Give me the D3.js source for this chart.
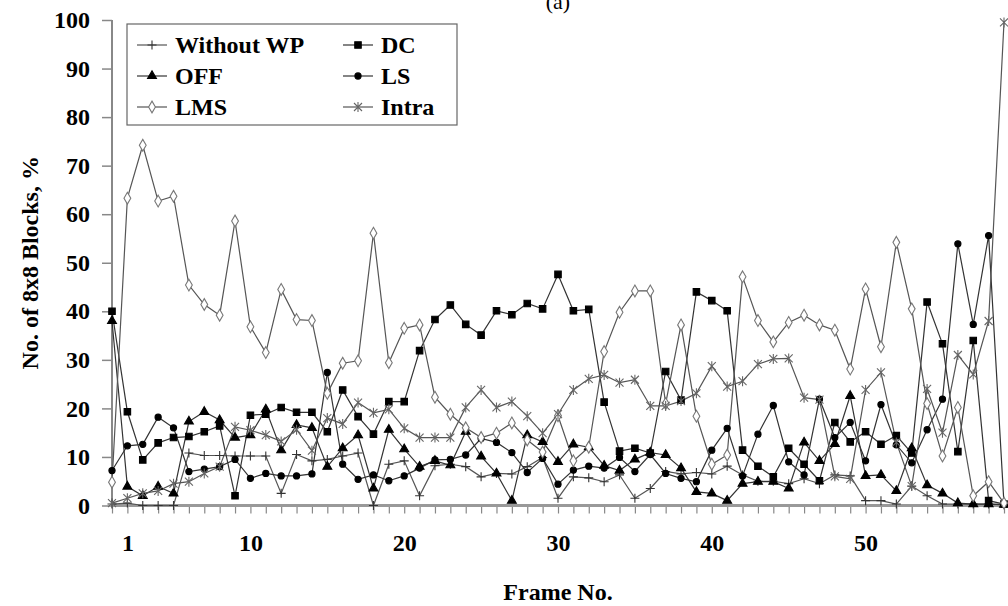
<!DOCTYPE html>
<html>
<head>
<meta charset="utf-8">
<script src="https://cdn.jsdelivr.net/npm/d3@7/dist/d3.min.js"></script>
<style>
  body { margin: 0; background: #fff; }
  text { font-family: "Liberation Serif", "Times New Roman", serif; font-weight: bold; fill: #000; }
</style>
</head>
<body>
<svg id="chart" width="1008" height="606"></svg>
<script>
// frame index 0..58
const frameCount = 59;
const xTickPos = [1, 9, 19, 29, 39, 49];
const xTickText = ["1", "10", "20", "30", "40", "50"];
const yTicks = [0, 10, 20, 30, 40, 50, 60, 70, 80, 90, 100];

const withoutWP = [0.3, 0.5, 0, 0, 0, 10.8, 10.3, 10.3, 10.2, 10.2, 10.2, 2.5, 10.5, 9.2, 9.5, 10.2, 10.8, 0, 8.5, 9.2,
  2, 8.2, 8.5, 8, 5.9, 6.6, 6.5, 8, 9.9, 1.5, 5.9, 5.7, 4.9, 6.3, 1.5, 3.5, 7, 6.5, 6.8, 6.5,
  8.1, 6.3, 5, 5, 4.5, 5.5, 4.5, 6.3, 6.1, 1, 1, 0.3, 4, 2, 0.3, 0.3, 0.3, 0.3, 0.2];
const dc = [40, 19.3, 9.4, 12.9, 14.0, 14.2, 15.2, 16.4, 2, 18.6, 18.8, 20.2, 19.2, 19.2, 15.2, 23.8, 18.3, 14.7, 21.4, 21.4,
  31.9, 38.3, 41.3, 37.3, 35.1, 40.1, 39.3, 41.6, 40.5, 47.6, 40.1, 40.4, 21.3, 11.2, 11.8, 10.8, 27.6, 21.7, 44.0, 42.2,
  40.1, 11.4, 8.1, 5.9, 11.8, 8.5, 5.1, 17.1, 13.1, 15.2, 12.6, 14.4, 10.8, 41.9, 33.3, 11.1, 34, 1, 0.3];
const off = [38, 3.9, 2, 3.9, 2.5, 17.3, 19.3, 17.6, 14.0, 14.5, 19.8, 11.4, 16.6, 16.0, 8.0, 11.8, 14.5, 3.5, 15.6, 11.6,
  8.0, 9.2, 8.3, 15.2, 10.1, 6.6, 1.0, 14.5, 13.1, 9.0, 12.6, 12.0, 8.2, 7.2, 9.5, 10.9, 10.4, 7.7, 2.8, 2.5,
  1.0, 4.5, 4.9, 4.9, 3.5, 13.0, 9.2, 12.7, 22.6, 6.1, 6.3, 3, 11.8, 4.2, 2.5, 0.5, 0.3, 0.3, 0.2];
const ls = [7.2, 12.3, 12.6, 18.2, 16.0, 7.0, 7.5, 8.0, 9.5, 5.6, 6.6, 6.1, 6.1, 6.5, 27.4, 8.5, 5.4, 6.3, 5.1, 6.1,
  7.7, 9.4, 9.5, 10.4, 13.8, 13.0, 10.9, 6.8, 9.7, 4.4, 7.3, 8.1, 7.7, 9.9, 7.0, 10.5, 6.6, 5.6, 4.9, 11.4,
  15.9, 6.1, 14.7, 20.6, 9.0, 6.3, 21.9, 14, 17.1, 9.2, 20.8, 12.5, 8.8, 15.6, 21.9, 53.9, 37.3, 55.6, 0.3];
const lms = [4.8, 63.3, 74.2, 62.7, 63.7, 45.4, 41.4, 39.2, 58.6, 36.8, 31.5, 44.5, 38.3, 38.1, 23.1, 29.3, 29.8, 56.1, 29.4, 36.5,
  37.2, 22.3, 18.8, 16, 14, 14.9, 17, 13.5, 11, 18.5, 9.2, 12, 31.7, 39.8, 44.2, 44.2, 21, 37.2, 18.4, 8.5,
  10.4, 47.1, 38.1, 33.7, 37.7, 39.2, 37.2, 36.1, 28.1, 44.6, 32.7, 54.2, 40.5, 21, 10.2, 20.2, 2, 4.9, 0.5];
const intra = [0.5, 1.5, 2.5, 3, 4.5, 4.9, 6.6, 8, 16.2, 15.5, 14.5, 13.2, 15.6, 11.3, 18, 16.8, 21.2, 19.1, 19.8, 15.9,
  14.0, 14.0, 14.0, 20.2, 23.8, 20.2, 21.4, 18.4, 14.9, 18.8, 23.8, 26.1, 26.9, 25.3, 25.9, 20.5, 20.5, 21.5, 23.1, 28.7,
  24.5, 25.6, 29.1, 30.2, 30.3, 22.2, 21.8, 6, 5.5, 23.8, 27.4, 13, 4, 24, 15, 31, 27, 38, 99.5];

const seriesNames = ["Without WP", "DC", "OFF", "LS", "LMS", "Intra"];
const seriesData = [withoutWP, dc, off, ls, lms, intra];

const svg = d3.select("#chart");

//plot bounds
const plotLeft = 112, plotRight = 1004, plotTop = 20, plotBottom = 505.5;

const x = d3.scaleLinear().domain([0, frameCount - 1]).range([plotLeft, plotRight]);
const y = d3.scaleLinear().domain([0, 100]).range([plotBottom, plotTop]);

//marker shapes
const markers = {
  "Without WP": { path: "M-4.5,0H4.5M0,-4.5V4.5", fill: "none", stroke: "#333", line: "#555" },
  "DC": { path: d3.symbol(d3.symbolSquare, 42)(), fill: "#000", stroke: "#000", line: "#333" },
  "OFF": { path: d3.symbol(d3.symbolTriangle, 34)(), fill: "#000", stroke: "#000", line: "#333" },
  "LS": { path: d3.symbol(d3.symbolCircle, 30)(), fill: "#000", stroke: "#000", line: "#333" },
  "LMS": { path: d3.symbol(d3.symbolDiamond, 40)(), fill: "#fff", stroke: "#777", line: "#555" },
  "Intra": { path: "M-4,-4L4,4M-4,4L4,-4M0,-5V5", fill: "none", stroke: "#666", line: "#555" }
};

//axes
const yAxis = d3.axisLeft(y).tickValues(yTicks).tickSize(10).tickPadding(12).tickFormat(d3.format("d"));
const gy = svg.append("g").attr("transform", "translate(" + plotLeft + ",0)").call(yAxis);
gy.select(".domain").remove();
gy.selectAll(".tick line").attr("stroke", "#888").attr("stroke-width", 1.5);
gy.selectAll(".tick text").style("font-size", "24px");

const xAxis = d3.axisBottom(x).tickValues(d3.range(frameCount)).tickSize(8).tickPadding(20)
  .tickFormat(d => { const k = xTickPos.indexOf(d); return k < 0 ? "" : xTickText[k]; });
const gx = svg.append("g").attr("transform", "translate(0," + plotBottom + ")").call(xAxis);
gx.select(".domain").remove();
gx.selectAll(".tick line").attr("stroke", "#888").attr("stroke-width", 1.2);
gx.selectAll(".tick text").style("font-size", "24px");

//axis lines
svg.append("line").attr("x1", plotLeft).attr("x2", plotLeft).attr("y1", plotTop).attr("y2", plotBottom)
  .attr("stroke", "#888").attr("stroke-width", 2);
svg.append("line").attr("x1", plotLeft).attr("x2", plotRight).attr("y1", plotBottom).attr("y2", plotBottom)
  .attr("stroke", "#999").attr("stroke-width", 3);

//series
const line = d3.line().x((d, i) => x(i)).y(d => y(d));
seriesNames.forEach((name, s) => {
  const m = markers[name];
  svg.append("path").datum(seriesData[s])
    .attr("d", line).attr("fill", "none").attr("stroke", m.line).attr("stroke-width", 1.2);
});
seriesNames.forEach((name, s) => {
  const m = markers[name];
  svg.append("g").selectAll("path").data(seriesData[s]).enter().append("path")
    .attr("transform", (d, i) => "translate(" + x(i) + "," + y(d) + ")")
    .attr("d", m.path).attr("fill", m.fill).attr("stroke", m.stroke).attr("stroke-width", 1.1);
});

//legend
const lg = svg.append("g").attr("transform", "translate(127,24)");
lg.append("rect").attr("width", 330).attr("height", 101).attr("fill", "#fff")
  .attr("stroke", "#666").attr("stroke-width", 1.2);
const legendOrder = [["Without WP", "DC"], ["OFF", "LS"], ["LMS", "Intra"]];
legendOrder.forEach((row, r) => {
  row.forEach((name, c) => {
    const m = markers[name];
    const g = lg.append("g").attr("transform", "translate(" + (10 + c * 206) + "," + (21 + r * 31) + ")");
    g.append("line").attr("x1", 0).attr("x2", 30).attr("stroke", m.line).attr("stroke-width", 1.2);
    g.append("path").attr("transform", "translate(15,0)").attr("d", m.path)
      .attr("fill", m.fill).attr("stroke", m.stroke).attr("stroke-width", 1.1);
    g.append("text").attr("x", 38).attr("dy", "0.35em").style("font-size", "24px").text(name);
  });
});

//titles
svg.append("text").attr("x", (plotLeft + plotRight) / 2).attr("y", 9).attr("text-anchor", "middle")
  .style("font-size", "22px").style("font-weight", "normal").text("(a)");
svg.append("text").attr("x", (plotLeft + plotRight) / 2).attr("y", 600).attr("text-anchor", "middle")
  .style("font-size", "24px").text("Frame No.");
svg.append("text").attr("transform", "translate(30," + ((plotTop + plotBottom) / 2) + ") rotate(-90)")
  .attr("text-anchor", "middle").attr("dy", "0.35em").style("font-size", "24px").text("No. of 8x8 Blocks, %");
</script>
</body>
</html>
